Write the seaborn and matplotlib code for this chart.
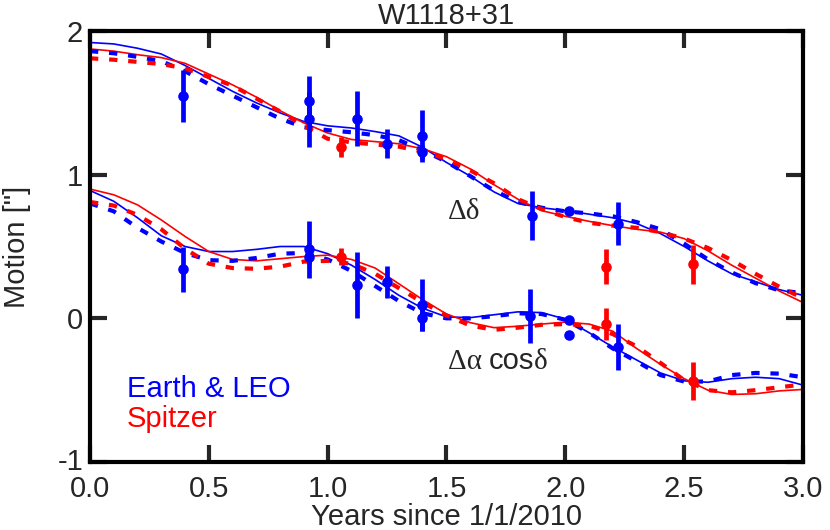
import numpy as np
import pandas as pd
import matplotlib
matplotlib.use("Agg")
import matplotlib.pyplot as plt
import matplotlib.transforms as mtransforms
import seaborn as sns

# ---------------- data ----------------
years = [0.0, 0.1, 0.2, 0.3, 0.4, 0.5, 0.6, 0.7, 0.8, 0.9, 1.0,
         1.1, 1.2, 1.3, 1.4, 1.5, 1.6, 1.7, 1.8, 1.9, 2.0,
         2.1, 2.2, 2.3, 2.4, 2.5, 2.6, 2.7, 2.8, 2.9, 3.0]

# Delta delta model curves
dec_earth_solid = [1.92, 1.91, 1.88, 1.84, 1.76, 1.67, 1.58, 1.50, 1.43, 1.37, 1.34,
                   1.325, 1.30, 1.27, 1.19, 1.085, 0.99, 0.88, 0.80, 0.77, 0.75,
                   0.725, 0.70, 0.66, 0.59, 0.50, 0.40, 0.31, 0.255, 0.20, 0.16]
dec_spitzer_solid = [1.875, 1.86, 1.835, 1.815, 1.775, 1.70, 1.625, 1.54, 1.445, 1.36, 1.29,
                     1.245, 1.23, 1.215, 1.18, 1.125, 1.04, 0.93, 0.83, 0.75, 0.71,
                     0.675, 0.645, 0.62, 0.60, 0.555, 0.47, 0.37, 0.28, 0.19, 0.11]
dec_earth_dash = [1.86, 1.845, 1.82, 1.79, 1.72, 1.63, 1.55, 1.47, 1.39, 1.33, 1.31,
                  1.295, 1.275, 1.24, 1.17, 1.09, 0.99, 0.89, 0.81, 0.77, 0.745,
                  0.73, 0.71, 0.67, 0.62, 0.52, 0.41, 0.32, 0.245, 0.195, 0.175]
dec_spitzer_dash = [1.81, 1.80, 1.785, 1.77, 1.74, 1.68, 1.62, 1.53, 1.44, 1.34, 1.25,
                    1.225, 1.21, 1.195, 1.16, 1.11, 1.03, 0.94, 0.83, 0.76, 0.705,
                    0.665, 0.645, 0.63, 0.60, 0.555, 0.49, 0.405, 0.31, 0.22, 0.14]

# Delta alpha cos(delta) model curves
ra_earth_solid = [0.89, 0.815, 0.70, 0.575, 0.50, 0.465, 0.465, 0.48, 0.50, 0.50, 0.45,
                  0.37, 0.27, 0.16, 0.07, 0.01, 0.005, 0.025, 0.045, 0.04, -0.005,
                  -0.10, -0.20, -0.29, -0.38, -0.435, -0.445, -0.42, -0.41, -0.42, -0.465]
ra_spitzer_solid = [0.90, 0.86, 0.79, 0.685, 0.57, 0.465, 0.41, 0.40, 0.415, 0.43, 0.44,
                    0.41, 0.35, 0.24, 0.13, 0.03, -0.03, -0.065, -0.055, -0.04, -0.026,
                    -0.04, -0.09, -0.21, -0.32, -0.42, -0.50, -0.53, -0.525, -0.505, -0.495]
ra_earth_dash = [0.80, 0.745, 0.63, 0.535, 0.455, 0.405, 0.40, 0.42, 0.45, 0.455, 0.41,
                 0.33, 0.225, 0.12, 0.035, 0.0, 0.0, 0.015, 0.035, 0.03, -0.01,
                 -0.10, -0.21, -0.30, -0.395, -0.44, -0.44, -0.395, -0.38, -0.385, -0.41]
ra_spitzer_dash = [0.81, 0.785, 0.72, 0.62, 0.485, 0.38, 0.35, 0.345, 0.36, 0.395, 0.40,
                   0.38, 0.31, 0.21, 0.11, 0.02, -0.05, -0.08, -0.065, -0.045, -0.04,
                   -0.05, -0.11, -0.195, -0.31, -0.43, -0.50, -0.515, -0.50, -0.48, -0.46]

# measurements
dec_earth_t = [0.39, 0.92, 0.92, 1.125, 1.25, 1.395, 1.395, 1.86, 2.015, 2.22]
dec_earth_y = [1.55, 1.51, 1.385, 1.39, 1.215, 1.27, 1.16, 0.715, 0.75, 0.66]
dec_earth_err = [0.18, 0.18, 0.19, 0.19, 0.10, 0.18, 0.05, 0.17, 0.02, 0.15]

dec_spitzer_t = [1.055, 2.17, 2.535]
dec_spitzer_y = [1.195, 0.36, 0.375]
dec_spitzer_err = [0.07, 0.12, 0.135]

ra_earth_t = [0.39, 0.92, 0.92, 1.125, 1.25, 1.395, 1.395, 1.85, 2.015, 2.015, 2.22]
ra_earth_y = [0.34, 0.48, 0.43, 0.235, 0.255, 0.095, 0.0, 0.015, -0.01, -0.115, -0.2]
ra_earth_err = [0.16, 0.20, 0.05, 0.23, 0.11, 0.18, 0.09, 0.19, 0.02, 0.02, 0.16]

ra_spitzer_t = [1.055, 2.17, 2.535]
ra_spitzer_y = [0.43, -0.04, -0.435]
ra_spitzer_err = [0.06, 0.11, 0.13]

x_ticks = [0.0, 0.5, 1.0, 1.5, 2.0, 2.5, 3.0]
x_ticklabels = ["0.0", "0.5", "1.0", "1.5", "2.0", "2.5", "3.0"]
y_ticks = [-1, 0, 1, 2]
y_ticklabels = ["-1", "0", "1", "2"]

# ---------------- style ----------------
sns.set_style("ticks")
plt.rcParams["font.family"] = ["Liberation Sans", "DejaVu Sans"]
FS = 21
BLUE = "#0000ff"
RED = "#ff0000"
SERIF = ["Liberation Serif", "DejaVu Serif"]

fig = plt.figure(figsize=(8.3, 5.3), dpi=100)
ax = fig.add_axes([0.1084, 0.1283, 0.8591, 0.8132])

curves = [
    (dec_earth_solid, BLUE, "solid"), (dec_spitzer_solid, RED, "solid"),
    (dec_earth_dash, BLUE, "dash"), (dec_spitzer_dash, RED, "dash"),
    (ra_earth_solid, BLUE, "solid"), (ra_spitzer_solid, RED, "solid"),
    (ra_earth_dash, BLUE, "dash"), (ra_spitzer_dash, RED, "dash"),
]
for vals, col, kind in curves:
    df = pd.DataFrame({"year": years, "motion": vals})
    if kind == "solid":
        sns.lineplot(data=df, x="year", y="motion", ax=ax, color=col,
                     linewidth=1.2, estimator=None, sort=False)
    else:
        sns.lineplot(data=df, x="year", y="motion", ax=ax, color=col,
                     linewidth=3.0, estimator=None, sort=False)
        ax.lines[-1].set_dashes((2.0, 2.6))

pts = [
    (dec_earth_t, dec_earth_y, dec_earth_err, BLUE),
    (dec_spitzer_t, dec_spitzer_y, dec_spitzer_err, RED),
    (ra_earth_t, ra_earth_y, ra_earth_err, BLUE),
    (ra_spitzer_t, ra_spitzer_y, ra_spitzer_err, RED),
]
for t, y, e, col in pts:
    ax.errorbar(t, y, yerr=e, fmt="none", ecolor=col, elinewidth=3.4, capsize=0, zorder=4)
    sns.scatterplot(x=t, y=y, ax=ax, color=col, s=58, linewidth=0, zorder=5)

ax.set_xlim(0, 3)
ax.set_ylim(-1, 2)
ax.set_xticks(x_ticks)
ax.set_xticklabels(x_ticklabels)
ax.set_yticks(y_ticks)
ax.set_yticklabels(y_ticklabels)
ax.tick_params(direction="in", length=12, width=3, labelsize=FS,
               top=True, right=True, labeltop=False, labelright=False)
ax.tick_params(axis="x", pad=9)
ax.tick_params(axis="y", pad=5)
for s in ax.spines.values():
    s.set_linewidth(3)
    s.set_color("black")
    s.set_visible(True)

# nudge the "-1" label up a little so it does not collide with "0.0"
lab = ax.get_yticklabels()[0]
lab.set_transform(lab.get_transform() +
                  mtransforms.ScaledTranslation(0, 3 / 100, fig.dpi_scale_trans))

ax.set_title("W1118+31", fontsize=FS, pad=5)
ax.set_xlabel("Years since 1/1/2010", fontsize=FS, labelpad=0)
ax.set_ylabel('Motion ["]', fontsize=FS)
ax.yaxis.set_label_coords(-0.083, 0.5)

# component labels (Greek letters in a serif face, like the reference)
ax.text(1.505, 0.65, "\u0394\u03b4", fontsize=FS, va="bottom", ha="left", family=SERIF)
t1 = ax.text(1.505, -0.395, "\u0394\u03b1 ", fontsize=FS, va="bottom", ha="left", family=SERIF)
t2 = ax.annotate("cos", xy=(1, 0), xycoords=t1, fontsize=FS, va="bottom", ha="left")
ax.annotate("\u03b4", xy=(1, 0), xycoords=t2, fontsize=FS, va="bottom", ha="left", family=SERIF)

ax.text(0.154, -0.55, "Earth & LEO", fontsize=FS, color=BLUE, va="baseline", ha="left")
ax.text(0.154, -0.755, "Spitzer", fontsize=FS, color=RED, va="baseline", ha="left")

fig.savefig("out.png", dpi=100)
